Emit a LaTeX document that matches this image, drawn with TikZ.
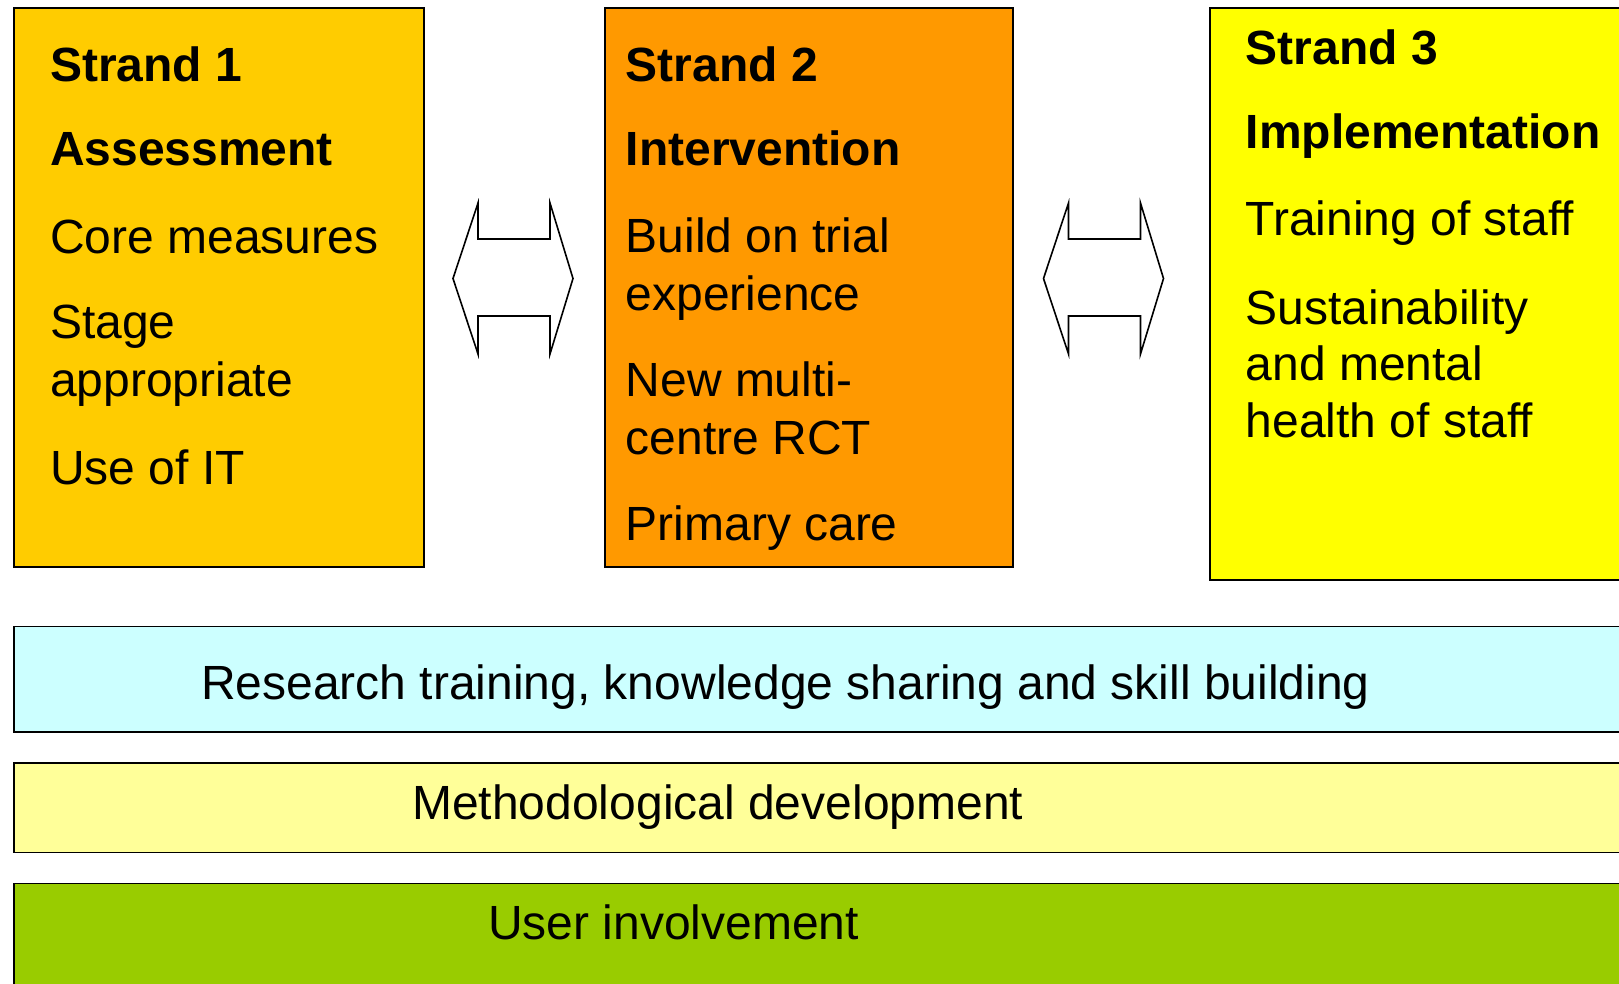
\documentclass[tikz,border=0pt]{standalone}
\usepackage{fontspec}
\setmainfont{Liberation Sans}
\usetikzlibrary{calc}
\definecolor{strandA}{HTML}{FFCC00}
\definecolor{strandB}{HTML}{FF9900}
\definecolor{strandC}{HTML}{FFFF00}
\definecolor{bandA}{HTML}{CCFFFF}
\definecolor{bandB}{HTML}{FFFF99}
\definecolor{bandC}{HTML}{99CC00}
\begin{document}
\begin{tikzpicture}[x=1pt,y=-1pt,
  panel/.style={draw=black, line width=1.5pt, rectangle, inner sep=0, anchor=north west},
  txt/.style={anchor=base west, inner sep=0, text=black, font=\fontsize{48}{58}\selectfont},
  hd/.style={txt, font=\fontsize{48}{58}\selectfont\bfseries},
  dblarrow/.pic={
    \draw[line width=1.6pt, line join=miter, fill=white]
      (-60,0) -- (-35,-75.5) -- (-35,-39.5) -- (37,-39.5) -- (37,-75.5) -- (60,0)
      -- (37,75.5) -- (37,37.5) -- (-35,37.5) -- (-35,75.5) -- cycle;
  }]
\useasboundingbox (0,0) rectangle (1619,983);
\clip (0,0) rectangle (1619,983);
\fill[white] (0,0) rectangle (1619,983);

% strand boxes
\node[panel, fill=strandA, minimum width=410pt, minimum height=559pt] (s1) at (13.4,7.2) {};
\node[panel, fill=strandB, minimum width=408pt, minimum height=559pt] (s2) at (604,7.2) {};
\node[panel, fill=strandC, minimum width=420pt, minimum height=572pt] (s3) at (1209,7.2) {};

% bands
\node[panel, fill=bandA, minimum width=1615pt, minimum height=105.5pt] (b1) at (13.4,625.7) {};
\node[panel, fill=bandB, minimum width=1615pt, minimum height=89.5pt] (b2) at (13.4,762) {};
\node[panel, fill=bandC, minimum width=1615pt, minimum height=110pt] (b3) at (13.4,882.5) {};

% strand 1 text
\node[hd]  (t11) at (50,81.6)  {Strand 1};
\node[hd]  (t12) at (50,165)   {Assessment};
\node[txt] (t13) at (50,253)   {Core measures};
\node[txt] (t14) at (50,338.7) {Stage};
\node[txt] (t15) at (50,396.5) {appropriate};
\node[txt] (t16) at (50,484)   {Use of IT};

% strand 2 text
\node[hd]  (t21) at (625.5,81.6)  {Strand 2};
\node[hd]  (t22) at (625.5,165)   {Intervention};
\node[txt] (t23) at (625.5,252)   {Build on trial};
\node[txt] (t24) at (625.5,310)   {experience};
\node[txt] (t25) at (625.5,396.5) {New multi-};
\node[txt] (t26) at (625.5,454)   {centre RCT};
\node[txt] (t27) at (625.5,540)   {Primary care};

% strand 3 text
\node[hd]  (t31) at (1245.5,64.4) {Strand 3};
\node[hd]  (t32) at (1245.5,148.5) {Implementation};
\node[txt] (t33) at (1245.5,235.5) {Training of staff};
\node[txt] (t34) at (1245.5,324)  {Sustainability};
\node[txt] (t35) at (1245.5,380)  {and mental};
\node[txt] (t36) at (1245.5,437.5) {health of staff};

% band text
\node[txt] (u1) at (201,699)   {Research training, knowledge sharing and skill building};
\node[txt] (u2) at (412,819)   {Methodological development};
\node[txt] (u3) at (488,939)   {User involvement};

% double block arrows between strands
\coordinate (a1) at (513,278.5);
\coordinate (a2) at (1103.5,278.5);
\pic at (a1) {dblarrow};
\pic at (a2) {dblarrow};
\end{tikzpicture}
\end{document}
